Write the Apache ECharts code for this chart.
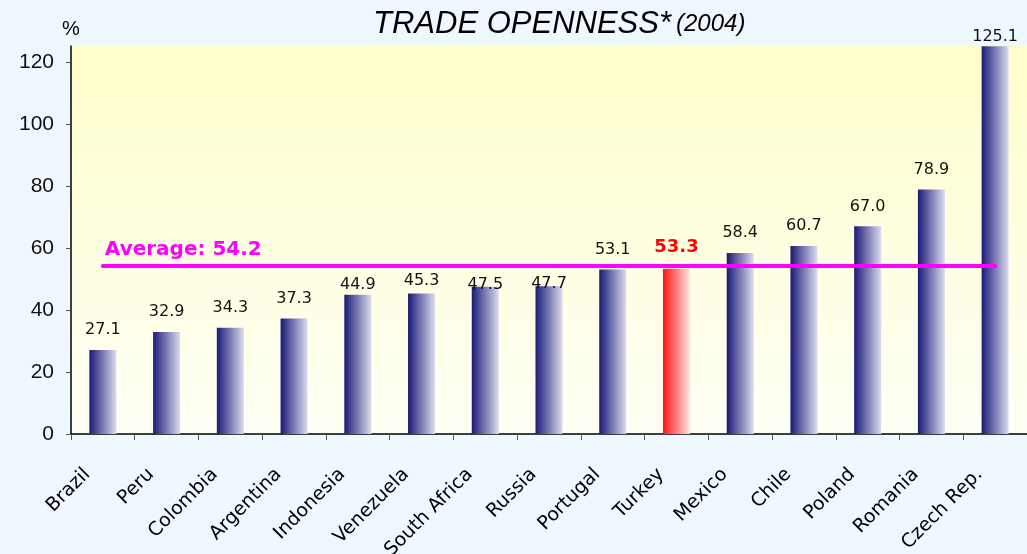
<!DOCTYPE html>
<html>
<head>
<meta charset="utf-8">
<script src="https://cdn.jsdelivr.net/npm/echarts@6/dist/echarts.min.js"></script>
<style>
  html, body { margin: 0; padding: 0; background: #F0F8FF; }
  #main { width: 1027px; height: 554px; }
</style>
</head>
<body>
<div id="main"></div>
<script>
const countries = ['Brazil', 'Peru', 'Colombia', 'Argentina', 'Indonesia', 'Venezuela', 'South Africa',
    'Russia', 'Portugal', 'Turkey', 'Mexico', 'Chile', 'Poland', 'Romania', 'Czech Rep.'];
const openness = [27.1, 32.9, 34.3, 37.3, 44.9, 45.3, 47.5, 47.7, 53.1, 53.3, 58.4, 60.7, 67.0, 78.9, 125.1];
const average = 54.2;
const highlight = 'Turkey';
const yTicks = [0, 20, 40, 60, 80, 100, 120];

// labels near the average line (and the top edge) sit closer to their bar, as in the original
const labelNudge = { 'Indonesia': 2, 'Venezuela': 5, 'South Africa': -6, 'Russia': -6, 'Czech Rep.': 1 };

function barGradient(dark, light) {
    return new echarts.graphic.LinearGradient(0, 0, 1, 0, [
        { offset: 0, color: dark },
        { offset: 1, color: light }
    ]);
}

const chart = echarts.init(document.getElementById('main'));

const barData = openness.map(function (v, i) {
    const item = { value: v };
    const name = countries[i];
    if (name === highlight) {
        item.itemStyle = { color: barGradient('#ff1414', '#ffe4e4') };
        item.label = { color: '#ff0000', fontWeight: 'bold', fontSize: 18 };
    }
    if (labelNudge[name] !== undefined) {
        item.label = Object.assign(item.label || {}, { distance: labelNudge[name] });
    }
    return item;
});

chart.setOption({
    backgroundColor: '#F0F8FF',
    animation: false,
    title: {
        text: '{a|TRADE OPENNESS*} {b|(2004)}',
        left: 368,
        top: 4,
        textStyle: {
            fontWeight: 'normal',
            rich: {
                a: { fontSize: 31, fontStyle: 'italic', fontWeight: 'normal', fontFamily: 'Liberation Sans', color: '#000' },
                b: { fontSize: 24, fontStyle: 'italic', fontWeight: 'normal', fontFamily: 'Liberation Sans', color: '#000' }
            }
        }
    },
    grid: {
        left: 71,
        right: 0,
        top: 46,
        bottom: 120,
        containLabel: false,
        outerBoundsMode: 'none',
        show: true,
        borderWidth: 0,
        backgroundColor: new echarts.graphic.LinearGradient(0, 0, 0, 1, [
            { offset: 0, color: '#FFFFCC' },
            { offset: 1, color: '#FFFFF6' }
        ])
    },
    xAxis: {
        type: 'category',
        data: countries,
        axisLine: { lineStyle: { color: '#000', width: 1.5 } },
        axisTick: { show: true, length: 6, lineStyle: { color: '#555' } },
        axisLabel: {
            interval: 0,
            rotate: 45,
            fontSize: 19,
            fontFamily: 'DejaVu Sans',
            color: '#000',
            margin: 22,
            padding: [0, 22, 0, 0]
        }
    },
    yAxis: {
        type: 'value',
        min: 0,
        max: 125.2,
        interval: 20,
        name: '%',
        nameLocation: 'end',
        nameGap: 7,
        nameTextStyle: { fontSize: 20, fontFamily: 'Liberation Sans', color: '#000' },
        splitLine: { show: false },
        axisLine: { show: true, lineStyle: { color: '#000', width: 1.5 } },
        axisTick: { show: true, length: 5, customValues: yTicks, lineStyle: { color: '#555' } },
        axisLabel: {
            customValues: yTicks,
            fontSize: 21,
            fontFamily: 'Liberation Sans',
            color: '#111',
            margin: 17
        }
    },
    series: [{
        type: 'bar',
        data: barData,
        barWidth: 27,
        itemStyle: { color: barGradient('#1a1a78', '#dcdcef') },
        label: {
            show: true,
            position: 'top',
            distance: 12,
            fontSize: 16,
            fontFamily: 'DejaVu Sans',
            color: '#111',
            formatter: function (p) { return p.value.toFixed(1); }
        },
        markLine: {
            silent: true,
            symbol: 'none',
            z: 10,
            lineStyle: { color: '#FF00FF', width: 4, type: 'solid', cap: 'round' },
            label: {
                show: true,
                position: 'insideStartTop',
                distance: [2, 6],
                formatter: 'Average: ' + average.toFixed(1),
                color: '#FF00FF',
                fontWeight: 'bold',
                fontSize: 20,
                fontFamily: 'DejaVu Sans'
            },
            data: [[
                { coord: [0, average] },
                { coord: [countries.length - 1, average] }
            ]]
        }
    }]
});
</script>
</body>
</html>
